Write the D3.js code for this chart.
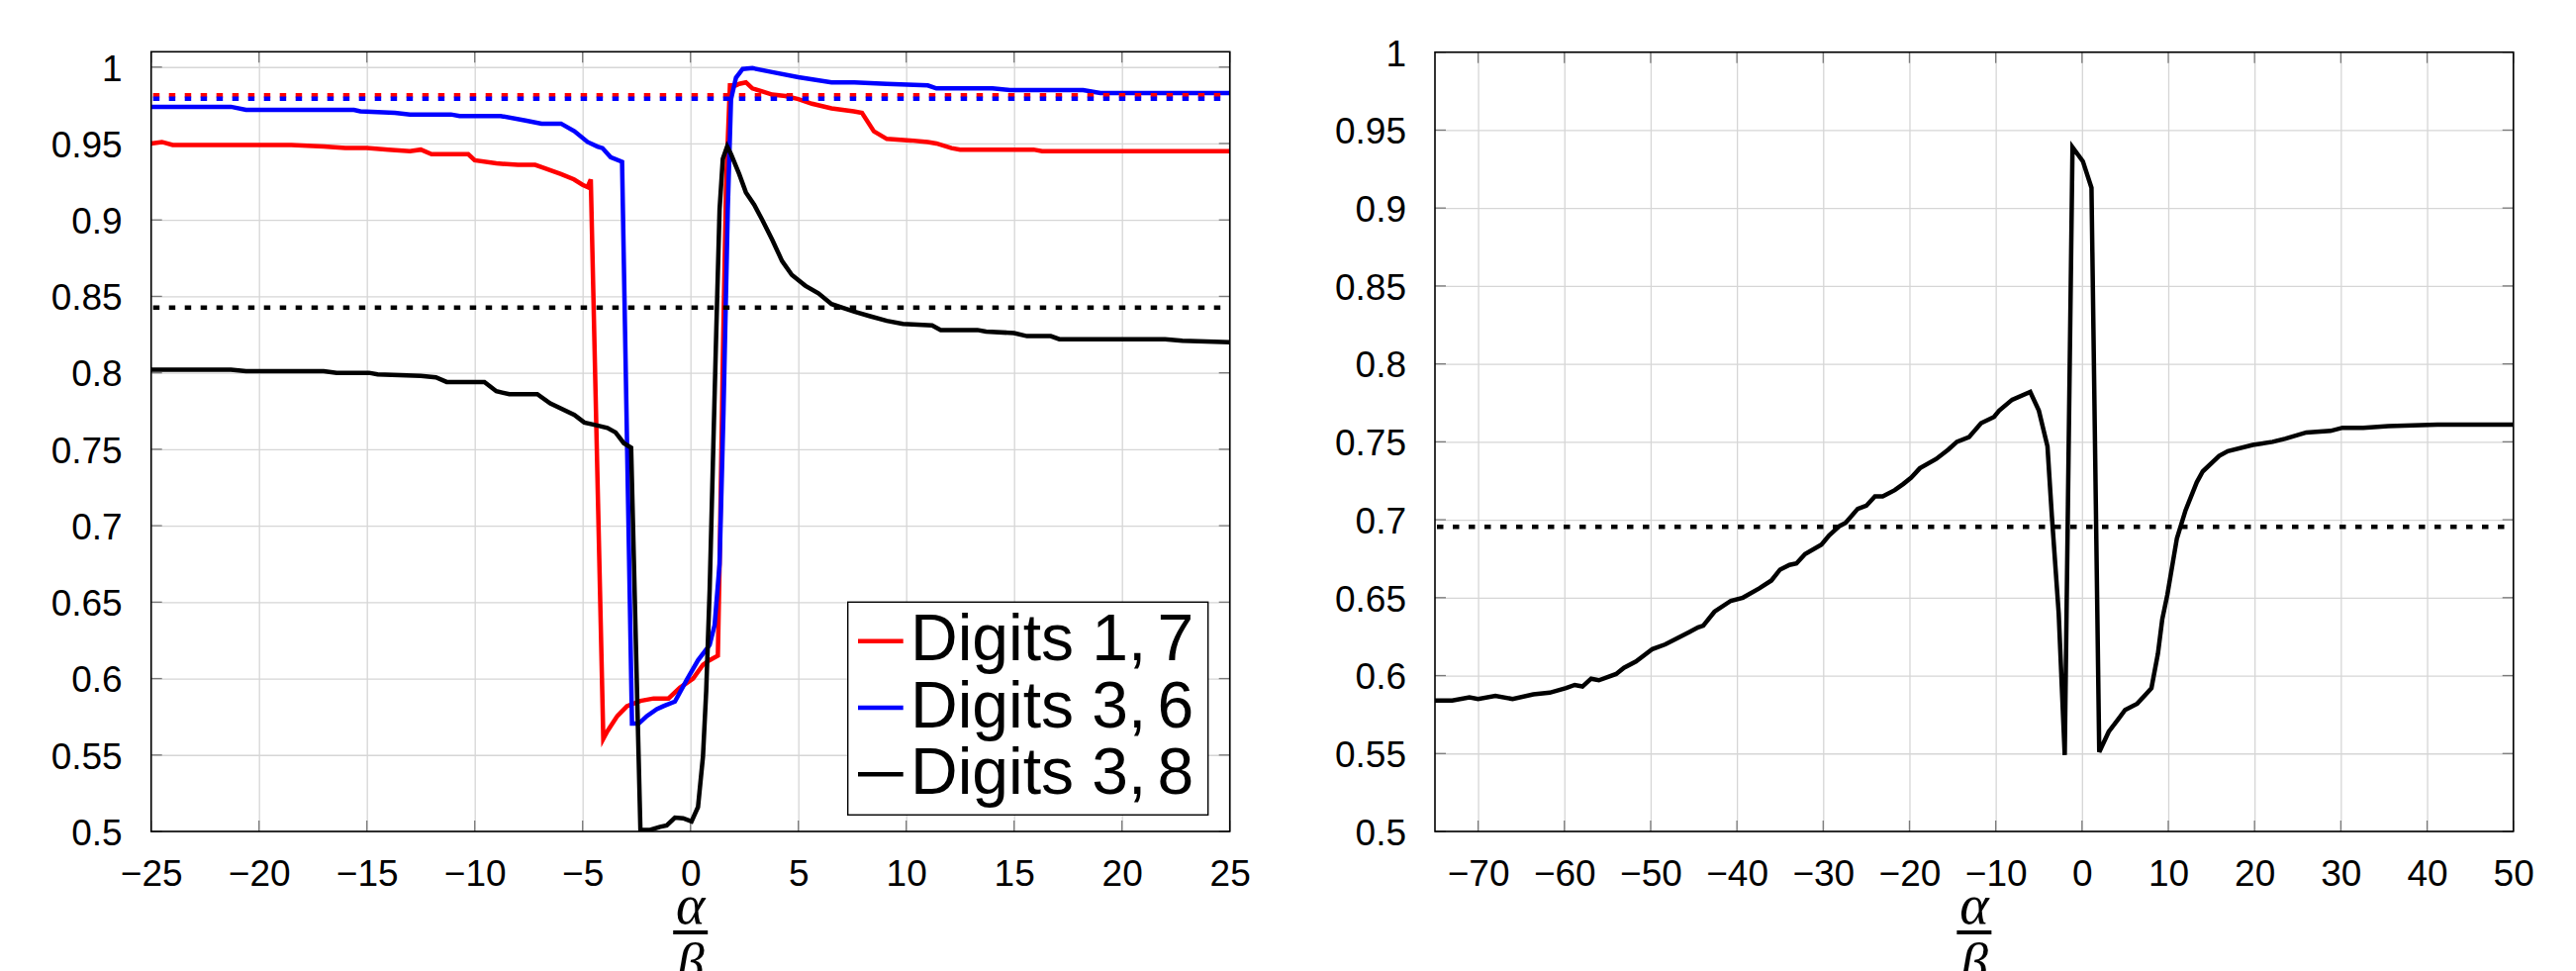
<!DOCTYPE html>
<meta charset="utf-8">
<style>
body { margin: 0; background: #fff; }
text { font-family: "Liberation Sans", Arial, sans-serif; fill: #000; }
.grid line { stroke: #d6d6d6; stroke-width: 1.3px; }
.grid path { display: none; }
.labels path, .labels line { display: none; }
.labels text { font-size: 37px; font-family: "Liberation Sans", Arial, sans-serif; }
.frac { font-family: "Liberation Serif", "DejaVu Serif", serif; font-style: italic; font-size: 56px; }
</style>
<svg width="2603" height="981"></svg>

<script src="https://d3js.org/d3.v7.min.js"></script>
<script>

// ---- left panel: accuracy vs alpha/beta for three digit pairs
var digits17 = [[-25,0.950],[-24.5,0.951],[-24,0.949],[-18.5,0.949],[-17,0.948],[-16,0.947],[-15,0.947],
  [-14,0.946],[-13,0.945],[-12.5,0.946],[-12,0.943],[-10.3,0.943],[-10,0.939],[-9,0.937],[-8,0.936],
  [-7.2,0.936],[-6.8,0.934],[-6,0.930],[-5.4,0.9265],[-5,0.923],[-4.77,0.9215],[-4.62,0.9265],
  [-4.04,0.5606],[-3.85,0.5656],[-3.39,0.5755],[-2.94,0.582],[-2.32,0.5854],[-1.71,0.587],[-1.02,0.587],
  [-0.49,0.594],[0.12,0.600],[0.58,0.609],[0.89,0.612],[1.27,0.615],[1.35,0.675],[1.5,0.807],[1.65,0.923],
  [1.83,0.988],[2.11,0.988],[2.26,0.989],[2.57,0.990],[2.87,0.986],[3.33,0.984],[3.79,0.982],[4.4,0.981],
  [5.0,0.979],[5.63,0.976],[6.54,0.973],[7.57,0.971],[7.95,0.970],[8.5,0.958],[9.1,0.953],[10.2,0.952],
  [11.0,0.951],[11.4,0.950],[12.1,0.947],[12.5,0.946],[15.9,0.946],[16.3,0.945],[25,0.945]];

var digits36 = [[-25,0.974],[-21.3,0.974],[-20.6,0.972],[-15.6,0.972],[-15.3,0.971],[-13.7,0.970],
  [-13,0.969],[-11.1,0.969],[-10.7,0.968],[-8.8,0.968],[-7.65,0.965],[-6.9,0.963],[-6.0,0.963],
  [-5.38,0.958],[-4.77,0.951],[-4.31,0.948],[-4.08,0.947],[-3.7,0.941],[-3.17,0.938],[-2.71,0.5705],
  [-2.4,0.5705],[-2.02,0.5755],[-1.56,0.580],[-1.25,0.582],[-0.72,0.585],[-0.18,0.599],[0.35,0.612],
  [0.89,0.622],[1.12,0.635],[1.35,0.675],[1.53,0.774],[1.73,0.907],[1.88,0.979],[2.11,0.993],[2.42,0.9987],
  [2.87,0.9993],[3.79,0.9967],[5.0,0.9934],[6.54,0.990],[7.6,0.990],[9.1,0.989],[11,0.988],[11.4,0.986],
  [14,0.986],[14.8,0.985],[18.2,0.985],[19,0.983],[25,0.983]];

var digits38 = [[-25,0.802],[-21.3,0.802],[-20.6,0.801],[-17,0.801],[-16.4,0.800],[-14.9,0.800],
  [-14.5,0.799],[-12.5,0.798],[-11.8,0.797],[-11.3,0.794],[-9.55,0.794],[-9.0,0.788],[-8.4,0.786],
  [-7.1,0.786],[-6.5,0.780],[-5.38,0.7725],[-4.92,0.7675],[-4.46,0.766],[-3.85,0.764],[-3.47,0.761],
  [-3.09,0.754],[-2.75,0.751],[-2.32,0.501],[-1.87,0.501],[-1.41,0.503],[-1.1,0.504],[-0.72,0.509],
  [-0.34,0.5086],[0.05,0.5066],[0.35,0.516],[0.58,0.549],[0.73,0.592],[0.89,0.658],[1.04,0.741],
  [1.19,0.824],[1.35,0.907],[1.5,0.940],[1.7,0.948],[1.88,0.943],[2.26,0.930],[2.57,0.918],[2.95,0.910],
  [3.33,0.900],[3.79,0.887],[4.25,0.873],[4.7,0.864],[5.32,0.857],[5.93,0.852],[6.54,0.845],[7.6,0.840],
  [8.33,0.837],[9.1,0.834],[9.85,0.832],[11.2,0.831],[11.6,0.828],[13.3,0.828],[13.7,0.827],[15.0,0.826],
  [15.6,0.824],[16.7,0.824],[17.1,0.822],[22,0.822],[22.8,0.821],[25,0.820]];

// horizontal reference levels (dotted)
var base17 = 0.9815, base36 = 0.9792, base38 = 0.8427;

// ---- right panel
var rightSeries = [[-75,0.584],[-73,0.584],[-71,0.586],[-70,0.585],[-68,0.587],[-66,0.585],[-63.6,0.588],
  [-61.7,0.589],[-59.8,0.592],[-58.8,0.594],[-57.9,0.593],[-56.9,0.598],[-56,0.597],[-54,0.601],
  [-53.1,0.605],[-51.7,0.609],[-49.8,0.617],[-48.3,0.620],[-46.9,0.624],[-45.5,0.628],[-44.5,0.631],
  [-43.9,0.632],[-42.6,0.641],[-40.7,0.648],[-39.3,0.650],[-37.4,0.656],[-36,0.661],[-35,0.668],
  [-33.9,0.671],[-33.1,0.672],[-32.1,0.678],[-30.2,0.684],[-29.3,0.690],[-28.1,0.696],[-27.4,0.698],
  [-26,0.707],[-25,0.709],[-24,0.715],[-23.1,0.715],[-21.7,0.719],[-20.7,0.723],[-19.8,0.727],
  [-18.8,0.733],[-16.9,0.739],[-15.5,0.745],[-14.5,0.750],[-13.1,0.753],[-11.7,0.762],[-10.2,0.766],
  [-9.6,0.770],[-8.1,0.777],[-6,0.782],[-5,0.770],[-4,0.747],[-3.5,0.703],[-2.7,0.64],[-2.0,0.549],
  [-1.1,0.939],[0.1,0.930],[1.1,0.913],[2.0,0.551],[3.1,0.564],[4.2,0.572],[5,0.578],[6.4,0.582],
  [7.4,0.588],[8.05,0.592],[8.8,0.614],[9.3,0.636],[9.9,0.652],[11.0,0.688],[12.0,0.706],[13.3,0.724],
  [14,0.731],[15.9,0.741],[16.9,0.744],[19.8,0.748],[22.1,0.750],[23.6,0.752],[26,0.756],[28.8,0.757],
  [30.2,0.759],[32.6,0.759],[35.5,0.760],[41.2,0.761],[46,0.761],[50,0.761]];
var baseRight = 0.6954;

// ticks
var leftXTicks = [-25,-20,-15,-10,-5,0,5,10,15,20,25];
var rightXTicks = [-70,-60,-50,-40,-30,-20,-10,0,10,20,30,40,50];
var yTicks = [0.5,0.55,0.6,0.65,0.7,0.75,0.8,0.85,0.9,0.95,1];

var legendNames = [["Digits 1,", "7"], ["Digits 3,", "6"], ["Digits 3,", "8"]];
var colors = ["#ff0000", "#0000ff", "#000000"];

var svg = d3.select("svg");
svg.append("rect").attr("width", 2603).attr("height", 981).attr("fill", "#fff");

var fmt = d3.format("");

function panel(o) {
  var x = d3.scaleLinear().domain(o.xDomain).range([o.left, o.right]);
  var y = d3.scaleLinear().domain(o.yDomain).range([o.bottom, o.top]);
  var g = svg.append("g");

  // grid
  g.append("g").attr("class", "grid")
    .attr("transform", "translate(0," + o.bottom + ")")
    .call(d3.axisBottom(x).tickValues(o.xTicks).tickSize(-(o.bottom - o.top)).tickFormat(""));
  g.append("g").attr("class", "grid")
    .attr("transform", "translate(" + o.left + ",0)")
    .call(d3.axisLeft(y).tickValues(yTicks).tickSize(-(o.right - o.left)).tickFormat(""));

  // inner ticks on all four sides
  var tk = g.append("g").attr("stroke", "#7a7a7a").attr("stroke-width", 1.3);
  o.xTicks.forEach(function(t) {
    tk.append("line").attr("x1", x(t)).attr("x2", x(t)).attr("y1", o.bottom).attr("y2", o.bottom - 11);
    tk.append("line").attr("x1", x(t)).attr("x2", x(t)).attr("y1", o.top).attr("y2", o.top + 11);
  });
  yTicks.forEach(function(t) {
    tk.append("line").attr("y1", y(t)).attr("y2", y(t)).attr("x1", o.left).attr("x2", o.left + 11);
    tk.append("line").attr("y1", y(t)).attr("y2", y(t)).attr("x1", o.right).attr("x2", o.right - 11);
  });

  // tick labels
  g.append("g").attr("class", "labels")
    .attr("transform", "translate(0," + o.bottom + ")")
    .call(d3.axisBottom(x).tickValues(o.xTicks).tickSize(0).tickPadding(28.5).tickFormat(fmt));
  g.append("g").attr("class", "labels")
    .attr("transform", "translate(" + o.left + ",0)")
    .call(d3.axisLeft(y).tickValues(yTicks).tickSize(0).tickPadding(29).tickFormat(fmt))
    .selectAll("text").attr("dy", "0.36em");

  // clip
  var cid = "clip" + o.id;
  svg.append("clipPath").attr("id", cid).append("rect")
    .attr("x", o.left).attr("y", o.top).attr("width", o.right - o.left).attr("height", o.bottom - o.top);
  var plot = g.append("g").attr("clip-path", "url(#" + cid + ")");

  var line = d3.line().x(function(d) { return x(d[0]); }).y(function(d) { return y(d[1]); });
  o.series.forEach(function(s) {
    plot.append("path").datum(s.data)
      .attr("d", line)
      .attr("fill", "none")
      .attr("stroke", s.color)
      .attr("stroke-width", 4.5)
      .attr("stroke-linejoin", "miter");
  });
  o.bases.forEach(function(b) {
    plot.append("line")
      .attr("x1", x(o.xDomain[0]) + 2).attr("x2", o.right)
      .attr("y1", y(b.value)).attr("y2", y(b.value))
      .attr("stroke", b.color).attr("stroke-width", 4.5)
      .attr("stroke-dasharray", "6.5 9.5");
  });

  // frame
  g.append("rect")
    .attr("x", o.left).attr("y", o.top)
    .attr("width", o.right - o.left).attr("height", o.bottom - o.top)
    .attr("fill", "none").attr("stroke", "#000").attr("stroke-width", 1.6);

  // x label: alpha over beta
  var cx = (o.left + o.right) / 2;
  g.append("text").attr("class", "frac").attr("x", cx).attr("y", 933)
    .attr("text-anchor", "middle").text("α");
  g.append("rect").attr("x", cx - 17.5).attr("y", 940).attr("width", 35).attr("height", 4).attr("fill", "#000");
  g.append("text").attr("class", "frac").attr("x", cx).attr("y", 992)
    .attr("text-anchor", "middle").text("β");

  return {x: x, y: y, g: g};
}

var L = panel({
  id: "L", left: 152.7, right: 1242.7, top: 52.3, bottom: 840,
  xDomain: [-25, 25], yDomain: [0.5, 1.01], xTicks: leftXTicks,
  series: [
    {data: digits17, color: colors[0]},
    {data: digits36, color: colors[1]},
    {data: digits38, color: colors[2]}
  ],
  bases: [
    {value: base17, color: colors[0]},
    {value: base36, color: colors[1]},
    {value: base38, color: colors[2]}
  ]
});

panel({
  id: "R", left: 1450, right: 2539.7, top: 52.7, bottom: 840,
  xDomain: [-75, 50], yDomain: [0.5, 1], xTicks: rightXTicks,
  series: [{data: rightSeries, color: "#000"}],
  bases: [{value: baseRight, color: "#000"}]
});

// legend
var lg = svg.append("g");
lg.append("rect").attr("x", 856.7).attr("y", 608.3).attr("width", 364).attr("height", 215)
  .attr("fill", "#fff").attr("stroke", "#000").attr("stroke-width", 1.4);
legendNames.forEach(function(n, i) {
  var yy = 647.7 + i * 67.3;
  lg.append("line").attr("x1", 867).attr("x2", 912.7).attr("y1", yy).attr("y2", yy)
    .attr("stroke", colors[i]).attr("stroke-width", 4.5);
  var t = lg.append("text").attr("x", 920).attr("y", 667.3 + i * 67.3).style("font-size", "66px");
  t.append("tspan").text(n[0]);
  t.append("tspan").attr("dx", 11).text(n[1]);
});

</script>
